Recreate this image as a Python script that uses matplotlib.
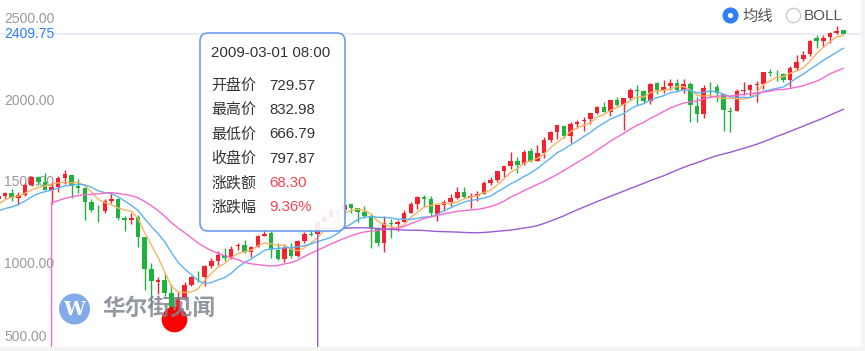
import numpy as np
import pandas as pd
import matplotlib
matplotlib.use('Agg')
import matplotlib.pyplot as plt
from matplotlib.patches import FancyBboxPatch, Circle
from matplotlib.transforms import IdentityTransform

plt.rcParams['font.family'] = ['Liberation Sans', 'Noto Sans CJK SC']

# S&P 500 monthly candles, Jan 2006 .. Jul 2017 (first 12 months only feed the MAs)
dates = pd.date_range('2006-01-01', periods=139, freq='MS')
opens = [
    1248.29, 1280.08, 1280.66, 1302.88, 1310.61, 1270.05, 1270.06, 1278.53, 1303.82, 1335.82, 1377.76, 1400.63,
    1418.03, 1437.90, 1406.80, 1420.83, 1482.37, 1530.62, 1504.66, 1455.18, 1473.96, 1527.29, 1545.79, 1479.63,
    1467.97, 1378.60, 1326.41, 1326.41, 1386.00, 1400.38, 1284.91, 1267.23, 1287.83, 1164.17, 968.67, 888.61,
    902.99, 823.09, 729.57, 793.59, 872.74, 923.26, 920.82, 990.22, 1019.52, 1054.91, 1036.18, 1108.88,
    1116.56, 1073.89, 1105.36, 1171.23, 1188.58, 1087.30, 1031.10, 1107.53, 1049.72, 1143.49, 1185.71, 1186.60,
    1257.62, 1289.14, 1328.64, 1329.48, 1365.21, 1345.20, 1320.64, 1292.59, 1219.12, 1131.21, 1251.00, 1246.91,
    1258.86, 1312.45, 1365.90, 1408.47, 1397.86, 1309.87, 1362.33, 1379.32, 1406.54, 1440.90, 1412.20, 1416.34,
    1426.19, 1498.11, 1514.68, 1569.18, 1597.55, 1631.71, 1609.78, 1689.42, 1633.72, 1682.41, 1758.70, 1806.55,
    1845.86, 1782.68, 1859.16, 1873.96, 1884.66, 1923.87, 1962.29, 1929.80, 2004.07, 1971.44, 2018.21, 2065.78,
    2058.90, 1996.67, 2105.23, 2064.11, 2087.38, 2108.64, 2067.00, 2104.49, 1970.09, 1919.65, 2080.76, 2082.93,
    2038.20, 1936.94, 1937.09, 2056.62, 2067.17, 2093.94, 2099.34, 2173.15, 2171.33, 2164.33, 2128.68, 2200.17,
    2251.57, 2285.59, 2380.13, 2363.72, 2388.50, 2415.65, 2431.39,
]
highs = [
    1294.90, 1297.57, 1310.88, 1318.16, 1326.70, 1284.05, 1280.42, 1306.74, 1340.28, 1389.45, 1407.89, 1431.81,
    1441.61, 1461.57, 1438.89, 1498.02, 1535.56, 1540.56, 1555.90, 1503.89, 1538.74, 1576.09, 1545.79, 1523.57,
    1471.77, 1396.02, 1359.68, 1397.00, 1440.24, 1404.05, 1292.17, 1313.15, 1303.04, 1167.03, 1007.51, 918.85,
    943.85, 877.86, 832.98, 888.70, 930.17, 956.23, 996.68, 1039.47, 1080.15, 1101.36, 1113.69, 1130.38,
    1150.45, 1112.42, 1180.69, 1219.80, 1200.26, 1131.23, 1120.95, 1129.24, 1148.67, 1196.14, 1227.08, 1262.60,
    1302.67, 1344.07, 1332.28, 1364.56, 1370.58, 1345.20, 1356.48, 1307.38, 1229.29, 1292.66, 1277.55, 1269.37,
    1333.47, 1378.04, 1419.15, 1422.38, 1415.32, 1363.46, 1391.74, 1426.68, 1474.51, 1470.96, 1434.27, 1448.00,
    1509.94, 1530.94, 1570.28, 1597.57, 1687.18, 1654.19, 1698.78, 1709.67, 1729.86, 1775.22, 1813.55, 1849.44,
    1850.84, 1867.92, 1883.97, 1897.28, 1924.03, 1968.17, 1991.39, 2005.04, 2019.26, 2018.19, 2075.76, 2093.55,
    2064.43, 2107.78, 2114.86, 2125.92, 2134.72, 2129.87, 2132.82, 2112.66, 2020.86, 2094.32, 2116.48, 2104.27,
    2038.20, 1962.96, 2072.21, 2111.05, 2103.48, 2120.55, 2177.09, 2193.81, 2187.87, 2169.60, 2214.10, 2277.53,
    2300.99, 2371.54, 2400.98, 2398.16, 2418.71, 2453.82, 2432.40,
]
lows = [
    1245.74, 1253.61, 1268.42, 1280.74, 1245.34, 1219.29, 1224.54, 1253.92, 1290.93, 1327.10, 1360.98, 1385.93,
    1403.97, 1389.42, 1363.98, 1416.37, 1476.70, 1484.18, 1454.25, 1370.60, 1439.29, 1489.56, 1406.10, 1435.65,
    1270.05, 1316.75, 1256.98, 1312.00, 1373.07, 1272.00, 1200.44, 1247.45, 1106.42, 839.80, 741.02, 815.69,
    804.30, 734.52, 666.79, 783.32, 866.10, 888.86, 869.32, 978.51, 992.25, 1020.18, 1029.38, 1085.89,
    1071.59, 1044.50, 1105.24, 1170.69, 1040.78, 1028.33, 1010.91, 1039.70, 1041.29, 1131.87, 1173.00, 1186.60,
    1257.62, 1289.14, 1249.05, 1294.70, 1311.80, 1258.07, 1282.86, 1101.54, 1114.22, 1074.77, 1158.66, 1202.37,
    1258.86, 1312.45, 1340.03, 1357.38, 1291.98, 1266.74, 1325.41, 1354.65, 1396.56, 1403.28, 1343.35, 1385.86,
    1426.19, 1485.01, 1501.48, 1536.03, 1581.28, 1560.33, 1604.57, 1627.47, 1633.41, 1646.47, 1746.20, 1767.99,
    1770.45, 1737.92, 1834.44, 1814.36, 1859.79, 1915.98, 1930.67, 1904.78, 1964.04, 1820.66, 2001.01, 1972.56,
    1988.12, 1980.90, 2039.69, 2048.38, 2067.93, 2056.32, 2044.02, 1867.01, 1871.91, 1893.70, 2019.39, 1993.26,
    1812.29, 1810.10, 1937.09, 2033.80, 2025.91, 1991.68, 2074.02, 2147.58, 2119.12, 2114.72, 2083.79, 2187.44,
    2245.13, 2271.65, 2322.25, 2328.95, 2352.72, 2405.70, 2407.70,
]
closes = [
    1280.08, 1280.66, 1294.83, 1310.61, 1270.09, 1270.20, 1276.66, 1303.82, 1335.85, 1377.94, 1400.63, 1418.30,
    1438.24, 1406.82, 1420.86, 1482.37, 1530.62, 1503.35, 1455.27, 1473.99, 1526.75, 1549.38, 1481.14, 1468.36,
    1378.55, 1330.63, 1322.70, 1385.59, 1400.38, 1280.00, 1267.38, 1282.83, 1166.36, 968.75, 896.24, 903.25,
    825.88, 735.09, 797.87, 872.81, 919.14, 919.32, 987.48, 1020.62, 1057.08, 1036.19, 1095.63, 1115.10,
    1073.87, 1104.49, 1169.43, 1186.69, 1089.41, 1030.71, 1101.60, 1049.33, 1141.20, 1183.26, 1180.55, 1257.64,
    1286.12, 1327.22, 1325.83, 1363.61, 1345.20, 1320.64, 1292.28, 1218.89, 1131.42, 1253.30, 1246.96, 1257.60,
    1312.41, 1365.68, 1408.47, 1397.91, 1310.33, 1362.16, 1379.32, 1406.58, 1440.67, 1412.16, 1416.18, 1426.19,
    1498.11, 1514.68, 1569.19, 1597.57, 1630.74, 1606.28, 1685.73, 1632.97, 1681.55, 1756.54, 1805.81, 1848.36,
    1782.59, 1859.45, 1872.34, 1883.95, 1923.57, 1960.23, 1930.67, 2003.37, 1972.29, 2018.05, 2067.56, 2058.90,
    1994.99, 2104.50, 2067.89, 2085.51, 2107.39, 2063.11, 2103.84, 1972.18, 1920.03, 2079.36, 2080.41, 2043.94,
    1940.24, 1932.23, 2059.74, 2065.30, 2096.95, 2098.86, 2173.60, 2170.95, 2168.27, 2126.15, 2198.81, 2238.83,
    2278.87, 2363.64, 2362.72, 2384.20, 2411.80, 2423.41, 2409.75,
]

y_ticks = [2500, 2000, 1500, 1000, 500]
ma_periods = [5, 10, 20, 60]
ma_colors = ['#f7b463', '#5db3f2', '#f56bcf', '#9b5bd0']
legend_items = ['均线', 'BOLL']
tip_labels = ['开盘价', '最高价', '最低价', '收盘价', '涨跌额', '涨跌幅']
hover = 38        # 2009-03 candle under the cursor
first_shown = 12  # chart is scrolled so that 2007-01 is the first candle

W, H = 865, 351
fig = plt.figure(figsize=(W / 100, H / 100), dpi=100, facecolor='#f4f4f4')
ax = fig.add_axes([0, 4 / H, 861 / W, 347 / H])
ax.set_facecolor('white')
for s in ax.spines.values():
    s.set_visible(False)
ax.set_xticks([])
ax.set_yticks([])

x = np.arange(len(dates))
o = np.array(opens); c = np.array(closes)
up = c >= o
col = np.where(up, '#f5222d', '#1fb33e')

ax.vlines(x, lows, highs, colors=col, lw=1, zorder=2)
ax.bar(x, np.maximum(np.abs(c - o), 2), bottom=np.minimum(o, c), width=0.68,
       color=col, linewidth=0, zorder=2)

# moving averages; the chart starts each line from the bottom edge
close_s = pd.Series(closes)
for p, mc in zip(ma_periods, ma_colors):
    ma = close_s.rolling(p).mean()
    f = p - 1
    ax.plot(np.r_[f, x[f:]], np.r_[0, ma.values[f:]], color=mc, lw=1.0, zorder=3)

# last price line
ax.axhline(closes[-1], color='#e8edfb', lw=1.3, zorder=1)

ax.set_xlim(first_shown - 0.75, first_shown + 128.66)
ax.set_ylim(494, 2615)

ytr = ax.get_yaxis_transform()
for v in y_ticks:
    if v == min(y_ticks):
        ax.annotate(f'{v:.2f}', xy=(0, v), xycoords=ytr, xytext=(4, 2), textcoords='offset pixels',
                    va='bottom', ha='left', color='#9a9a9a', fontsize=10, zorder=1)
    else:
        ax.annotate(f'{v:.2f}', xy=(0, v), xycoords=ytr, xytext=(4, 0), textcoords='offset pixels',
                    va='center', ha='left', color='#9a9a9a', fontsize=10, zorder=1)
ax.annotate(f'{closes[-1]:.2f}', xy=(0, closes[-1]), xycoords=ytr, xytext=(4, 0),
            textcoords='offset pixels', va='center', ha='left', color='#2f7cf6', fontsize=10, zorder=1)

# cursor dot at the hovered low (mouse sits a little left of the candle centre)
ax.plot([hover - 0.6], [lows[hover]], 'o', ms=18.5, color='#ff0000', mec='none', zorder=6)

# watermark
def fx(px, py):
    return px / W, 1 - py / H

idt = IdentityTransform()
fig.add_artist(Circle((74.5, H - 309), 15.5, transform=idt, fc='#6d9be6', ec='none', alpha=0.85, zorder=4))
fig.text(*fx(74.5, 310), 'W', ha='center', va='center', color='white', fontsize=14,
         fontweight='bold', family='DejaVu Serif', zorder=5)
fig.text(*fx(102, 308), '华尔街见闻', ha='left', va='center', color='#80858f', fontsize=16.3,
         fontweight='bold', family=['Noto Sans CJK SC'], alpha=0.85, zorder=5)

# tooltip
fig.add_artist(FancyBboxPatch((200, H - 231), 145, 198, boxstyle='round,pad=0,rounding_size=8',
                              transform=idt, fc=(1, 1, 1, 0.9), ec='#6c9ded', lw=1.2, zorder=6))
h = hover
chg = closes[h] - opens[h]
tip_values = [f'{opens[h]:.2f}', f'{highs[h]:.2f}', f'{lows[h]:.2f}', f'{closes[h]:.2f}',
              f'{chg:.2f}', f'{chg / opens[h] * 100:.2f}%']
tip_colors = ['#333333'] * 4 + ['#f5444f' if chg >= 0 else '#1fb33e'] * 2
fig.text(*fx(211, 53), dates[h].strftime('%Y-%m-%d') + ' 08:00', ha='left', va='center',
         color='#333333', fontsize=10.8, zorder=7)
for k, (lab, val, vc) in enumerate(zip(tip_labels, tip_values, tip_colors)):
    yy = 86 + 24.2 * k
    fig.text(*fx(211, yy), lab, ha='left', va='center', color='#333333', fontsize=10.8,
             family=['Noto Sans CJK SC'], zorder=7)
    fig.text(*fx(269, yy), val, ha='left', va='center', color=vc, fontsize=10.8, zorder=7)

# legend radio buttons
fig.add_artist(Circle((730.5, H - 15.5), 7.5, transform=idt, fc='#2f7ff5', ec='#2f7ff5', lw=0.8, zorder=6))
fig.add_artist(Circle((730.5, H - 15.5), 2.6, transform=idt, fc='white', ec='none', zorder=7))
fig.text(*fx(742, 16), legend_items[0], ha='left', va='center', color='#555555', fontsize=11,
         family=['Noto Sans CJK SC'], zorder=7)
fig.add_artist(Circle((793.5, H - 15.5), 7.2, transform=idt, fc='white', ec='#c8c8c8', lw=0.9, zorder=6))
fig.text(*fx(804, 16), legend_items[1], ha='left', va='center', color='#555555', fontsize=11, zorder=7)

fig.savefig('out.png', dpi=100, facecolor=fig.get_facecolor())
